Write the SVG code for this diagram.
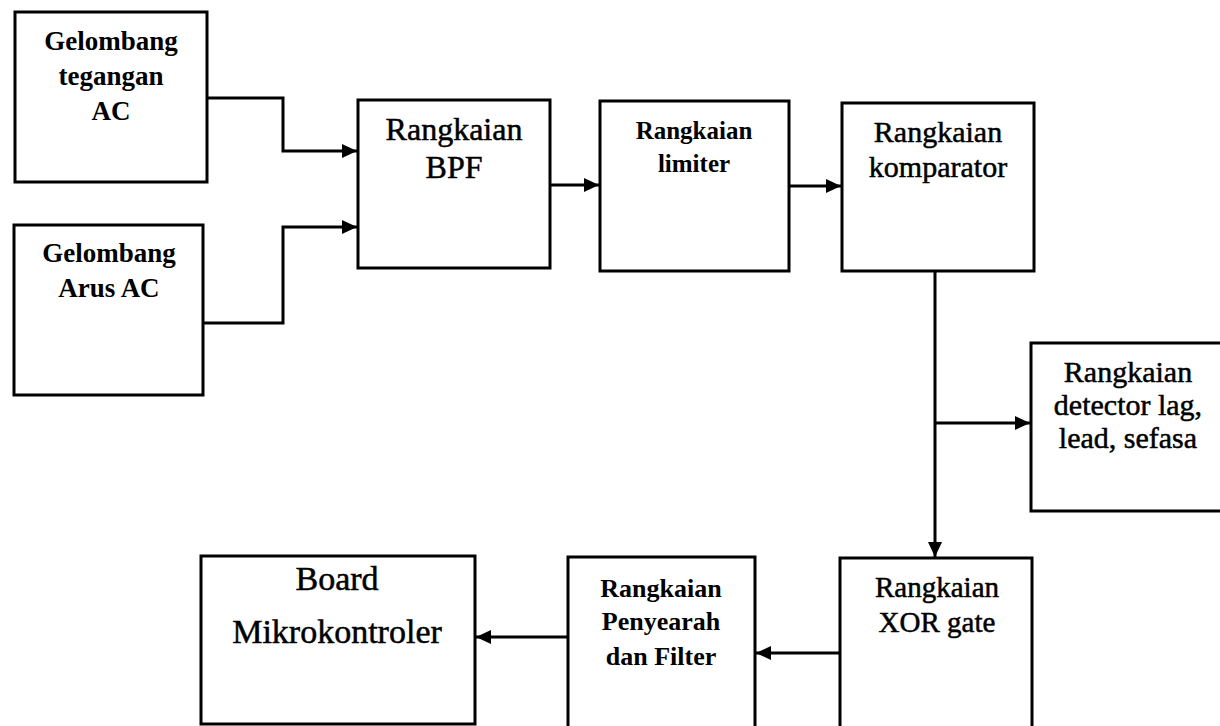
<svg xmlns="http://www.w3.org/2000/svg" width="1220" height="726" viewBox="0 0 1220 726">
<defs>
<marker id="arr" markerUnits="userSpaceOnUse" markerWidth="16" markerHeight="14" refX="15" refY="7" orient="auto">
<path d="M0,0 L15,7 L0,14 z" fill="#000"/>
</marker>
<style>
.box{fill:#fff;stroke:#000;stroke-width:3}
.t{font-family:'Liberation Serif','Times New Roman',serif;fill:#000;text-anchor:middle}
.r{stroke:#000;stroke-width:0.5}
.b{font-weight:bold}
.c{fill:none;stroke:#000;stroke-width:3;stroke-linejoin:miter}
</style>
</defs>
<rect width="1220" height="726" fill="#fff"/>
<g id="connectors">
<path class="c" d="M207,98 H283 V151 H357" marker-end="url(#arr)"/>
<path class="c" d="M204,323 H283 V227 H357" marker-end="url(#arr)"/>
<path class="c" d="M550,185 H599" marker-end="url(#arr)"/>
<path class="c" d="M789,186 H841" marker-end="url(#arr)"/>
<path class="c" d="M935,271 V557" marker-end="url(#arr)"/>
<path class="c" d="M935,423 H1030" marker-end="url(#arr)"/>
<path class="c" d="M840,653 H756" marker-end="url(#arr)"/>
<path class="c" d="M568,637 H476" marker-end="url(#arr)"/>
</g>
<g id="n-tegangan">
<rect class="box" x="15" y="12" width="192" height="170"/>
<text class="t b" font-size="27" x="111" y="50">Gelombang</text>
<text class="t b" font-size="27" x="111" y="85">tegangan</text>
<text class="t b" font-size="27" x="111" y="120">AC</text>
</g>
<g id="n-arus">
<rect class="box" x="14" y="225" width="189" height="170"/>
<text class="t b" font-size="27" x="109" y="262">Gelombang</text>
<text class="t b" font-size="27" x="109" y="297">Arus AC</text>
</g>
<g id="n-bpf">
<rect class="box" x="358" y="100" width="192" height="168"/>
<text class="t r" font-size="32" x="454" y="140">Rangkaian</text>
<text class="t r" font-size="32" x="454" y="178">BPF</text>
</g>
<g id="n-limiter">
<rect class="box" x="600" y="101" width="189" height="170"/>
<text class="t b" font-size="25" x="694" y="139">Rangkaian</text>
<text class="t b" font-size="25" x="694" y="172">limiter</text>
</g>
<g id="n-komparator">
<rect class="box" x="842" y="103" width="192" height="168"/>
<text class="t r" font-size="30" x="938" y="142">Rangkaian</text>
<text class="t r" font-size="30" x="938" y="177">komparator</text>
</g>
<g id="n-detector">
<rect class="box" x="1031" y="343" width="200" height="168"/>
<text class="t r" font-size="30" x="1128" y="382">Rangkaian</text>
<text class="t r" font-size="30" x="1128" y="415">detector lag,</text>
<text class="t r" font-size="30" x="1128" y="448">lead, sefasa</text>
</g>
<g id="n-xor">
<rect class="box" x="840" y="558" width="192" height="180"/>
<text class="t r" font-size="29" x="937" y="597">Rangkaian</text>
<text class="t r" font-size="29" x="937" y="632">XOR gate</text>
</g>
<g id="n-penyearah">
<rect class="box" x="568" y="557" width="187" height="180"/>
<text class="t b" font-size="26" x="661" y="597">Rangkaian</text>
<text class="t b" font-size="26" x="661" y="630">Penyearah</text>
<text class="t b" font-size="26" x="661" y="665">dan Filter</text>
</g>
<g id="n-board">
<rect class="box" x="201" y="556" width="274" height="168"/>
<text class="t r" font-size="34" x="337" y="590">Board</text>
<text class="t r" font-size="34" x="337" y="643">Mikrokontroler</text>
</g>
</svg>
